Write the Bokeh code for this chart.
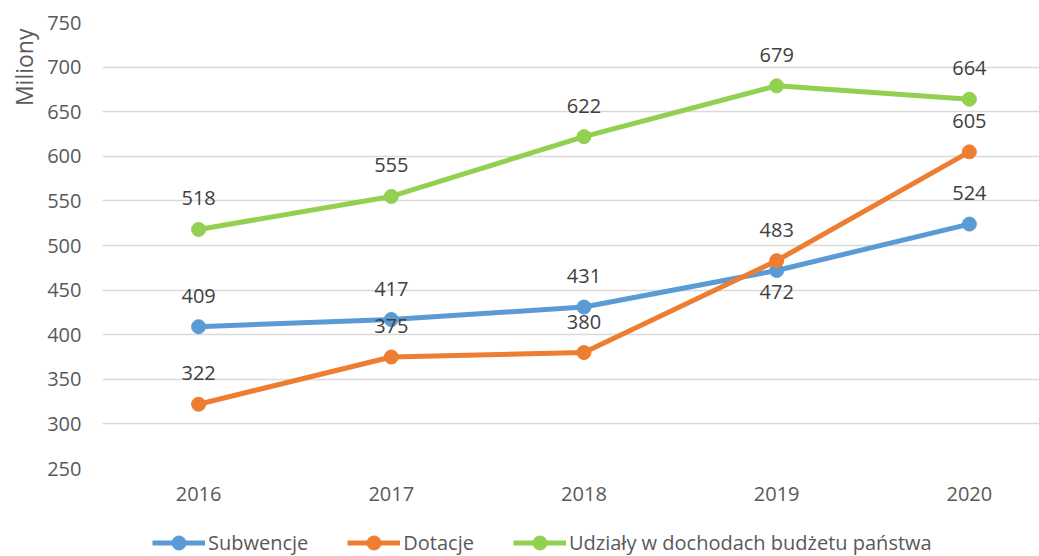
from bokeh.plotting import figure
from bokeh.layouts import column
from bokeh.models import ColumnDataSource, Range1d, FixedTicker, Title, Legend, LegendItem
from bokeh.core.properties import value
from bokeh.embed import file_html
from bokeh.resources import INLINE

years = ["2016", "2017", "2018", "2019", "2020"]
subwencje = [409, 417, 431, 472, 524]
dotacje = [322, 375, 380, 483, 605]
udzialy = [518, 555, 622, 679, 664]

series = [
    ("Subwencje", subwencje, "#5B9BD5", ["above", "above", "above", "below", "above"]),
    ("Dotacje", dotacje, "#ED7D31", ["above"] * 5),
    ("Udziały w dochodach budżetu państwa", udzialy, "#92D050", ["above"] * 5),
]

FONT = "Open Sans"
LW = 5
MS = 14

p = figure(width=1039, height=514, output_backend="svg", toolbar_location=None,
           x_range=Range1d(-0.4987, 4.364), y_range=Range1d(250, 750),
           min_border_left=100, min_border_top=22, min_border_right=0, min_border_bottom=46)
p.outline_line_color = None
p.background_fill_color = "white"
p.border_fill_color = "white"

xs = list(range(len(years)))
for name, vals, color, pos in series:
    src = ColumnDataSource(dict(x=xs, y=vals, t=[str(v) for v in vals],
                                off=[-31 if q == "above" else 22 for q in pos]))
    p.line("x", "y", source=src, line_color=color, line_width=LW)
    p.scatter("x", "y", source=src, fill_color=color, line_color=color, size=MS)
    p.text("x", "y", text="t", source=src, y_offset="off", text_align="center",
           text_baseline="middle", text_color="#404040",
           text_font=value(FONT), text_font_size=value("20px"))

p.xgrid.grid_line_color = None
p.ygrid.grid_line_color = "#D9D9D9"
p.ygrid.grid_line_width = 1.5
p.yaxis.ticker = FixedTicker(ticks=list(range(250, 751, 50)))
p.xaxis.ticker = FixedTicker(ticks=xs)
p.xaxis.major_label_overrides = {i: y for i, y in enumerate(years)}
for ax in (p.xaxis[0], p.yaxis[0]):
    ax.axis_line_color = None
    ax.major_tick_line_color = None
    ax.minor_tick_line_color = None
    ax.major_tick_out = 0
    ax.major_tick_in = 0
    ax.major_label_text_font = FONT
    ax.major_label_text_font_size = "20px"
    ax.major_label_text_color = "#595959"
p.yaxis.major_label_standoff = 21
p.xaxis.major_label_standoff = 18

t = Title(text="Miliony", align="right", offset=6, text_font=FONT, text_font_size="23px",
          text_font_style="normal", text_color="#595959")
p.add_layout(t, "left")

# legend strip below the chart (its frame is aligned with the main frame)
p2 = figure(width=1039, height=42, output_backend="svg", toolbar_location=None,
            x_range=Range1d(0, 1), y_range=Range1d(0, 1),
            x_axis_type=None, y_axis_type=None,
            min_border_left=0, min_border_top=0, min_border_right=0, min_border_bottom=0)
p2.outline_line_color = None
p2.xgrid.grid_line_color = None
p2.ygrid.grid_line_color = None
items = []
for name, vals, color, pos in series:
    r1 = p2.line(x=[5, 6], y=[5, 6], line_color=color, line_width=LW)
    r2 = p2.scatter(x=[5], y=[5], fill_color=color, line_color=color, size=MS)
    items.append(LegendItem(label=name, renderers=[r1, r2]))

legend = Legend(items=items, orientation="horizontal", location=(50, -4),
                glyph_width=53, glyph_height=35, label_standoff=3, spacing=39,
                margin=0, padding=0, border_line_color=None, background_fill_alpha=0,
                label_text_font=FONT, label_text_font_size="20px", label_text_color="#595959")
p2.add_layout(legend, "center")

open("out.html", "w").write(file_html(column(p, p2, spacing=0), INLINE))
